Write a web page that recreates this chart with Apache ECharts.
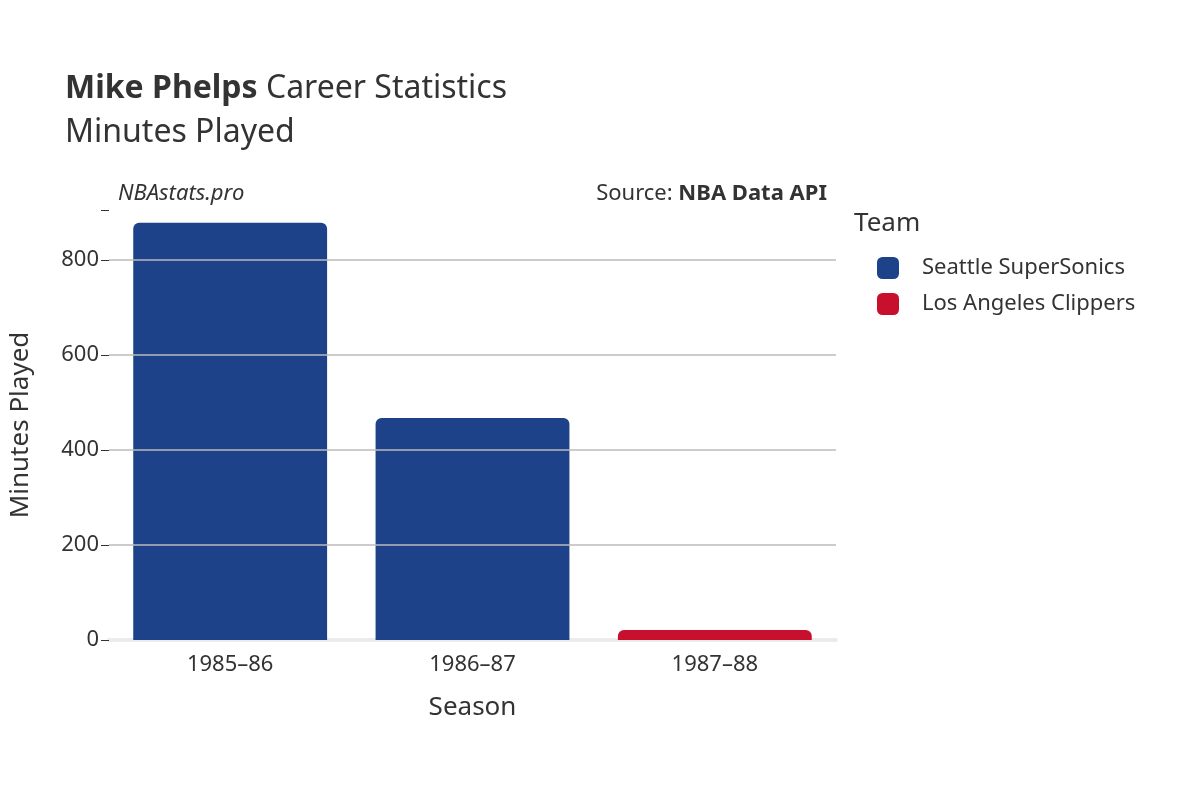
<!DOCTYPE html>
<html><head><meta charset="utf-8">
<script src="https://cdn.jsdelivr.net/npm/echarts@6/dist/echarts.min.js"></script>
<style>html,body{margin:0;padding:0;background:#fff}#c{width:1200px;height:800px}</style>
</head><body><div id="c"></div>
<script>
const seasons = ['1985–86','1986–87','1987–88'];
const sonics = [878, 467, null];
const clippers = [null, null, 21];
const gridVals = [200, 400, 600, 800];
const F = '"Noto Sans", "DejaVu Sans", sans-serif';
const chart = echarts.init(document.getElementById('c'));
chart.setOption({
  animation: false,
  textStyle: {fontFamily: F},
  title: [
    {text: '{b|Mike Phelps} Career Statistics', left: 60, top: 68, textStyle: {fontSize: 32, color: '#333', fontWeight: 'normal', fontFamily: F, rich: {b: {fontSize: 32, fontWeight: 'bold', color: '#333', fontFamily: F}}}},
    {text: 'Minutes Played', left: 60, top: 112, textStyle: {fontSize: 32, color: '#333', fontWeight: 'normal', fontFamily: F}},
    {text: 'NBAstats.pro', left: 113, top: 178, textStyle: {fontSize: 22, color: '#333', fontStyle: 'italic', fontWeight: 'normal', fontFamily: F}},
    {text: 'Source: {b|NBA Data API}', right: 1200-832, top: 178, textStyle: {fontSize: 22, color: '#333', fontWeight: 'normal', fontFamily: F, rich: {b: {fontSize: 22, fontWeight: 'bold', color: '#333', fontFamily: F}}}}
  ],
  legend: {
    left: 872, top: 252, orient: 'vertical', itemGap: 14, itemWidth: 22, itemHeight: 22,
    icon: 'roundRect', textStyle: {fontSize: 22, color: '#333', padding: [0,0,0,18], fontFamily: F},
    data: ['Seattle SuperSonics', 'Los Angeles Clippers']
  },
  graphic: [{type: 'text', left: 854, top: 211, style: {text: 'Team', fontSize: 26, fill: '#333', fontFamily: F}}],
  grid: {left: 108, right: 364, top: 210, bottom: 160},
  xAxis: {
    type: 'category', data: seasons,
    name: 'Season', nameLocation: 'middle', nameGap: 55, nameTextStyle: {fontSize: 26, color: '#333'},
    axisLine: {show: true, lineStyle: {color: '#ebebeb', width: 4}},
    axisTick: {show: false},
    axisLabel: {fontSize: 22, color: '#333', margin: 14}
  },
  yAxis: {
    type: 'value', min: 0, max: 905, interval: 200,
    name: 'Minutes Played', nameLocation: 'middle', nameGap: 75, nameTextStyle: {fontSize: 26, color: '#333'},
    axisLine: {show: false},
    axisTick: {show: true, length: 8, lineStyle: {color: '#333'}},
    axisLabel: {fontSize: 22, color: '#333', margin: 10, formatter: v => (v % 200 === 0 ? String(v) : '')},
    splitLine: {show: false}
  },
  series: [
    {name: 'Seattle SuperSonics', type: 'bar', stack: 't', data: sonics, barCategoryGap: '20%',
     itemStyle: {color: '#1d428a', borderRadius: [6,6,0,0]},
     markLine: {silent: true, symbol: 'none', label: {show: false}, lineStyle: {color: '#bbb', type: 'solid', width: 1.5},
       data: gridVals.map(v => ({yAxis: v}))}, z: 3},
    {name: 'Los Angeles Clippers', type: 'bar', stack: 't', data: clippers,
     itemStyle: {color: '#c8102e', borderRadius: [6,6,0,0]}, z: 3}
  ]
});
</script></body></html>
